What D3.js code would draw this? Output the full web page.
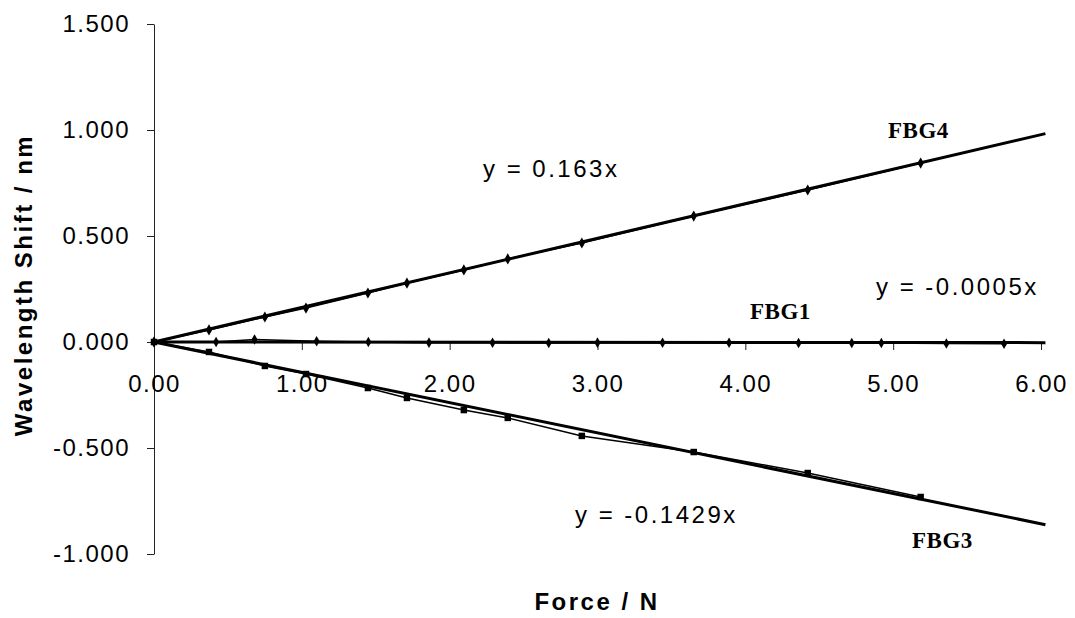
<!DOCTYPE html>
<html>
<head>
<meta charset="utf-8">
<script src="https://cdn.jsdelivr.net/npm/d3@7/dist/d3.min.js"></script>
<style>
  body { margin: 0; background: #fff; }
  svg { display: block; }
  .tick text { font-family: "Liberation Sans", Arial, sans-serif; font-size: 24px; letter-spacing: 1.5px; fill: #000; }
  .eq { font-family: "Liberation Sans", Arial, sans-serif; font-size: 24px; letter-spacing: 2.5px; fill: #000; }
  .tag { font-family: "Liberation Serif", "Times New Roman", serif; font-size: 23px; font-weight: bold; letter-spacing: 0.5px; fill: #000; }
  .title { font-family: "Liberation Sans", Arial, sans-serif; font-size: 24px; font-weight: bold; letter-spacing: 2.5px; fill: #000; }
</style>
</head>
<body>
<div id="chart"></div>
<script>
//data
const loadsA = [0, 0.372, 0.750, 1.028, 1.447, 1.711, 2.096, 2.393, 2.894, 3.651, 4.422, 5.186];
const fbg4 = [0, 0.057, 0.118, 0.160, 0.231, 0.278, 0.340, 0.392, 0.467, 0.594, 0.717, 0.844];
const fbg3 = [0, -0.047, -0.113, -0.151, -0.217, -0.264, -0.321, -0.358, -0.443, -0.519, -0.618, -0.731];
const loadsB = [0, 0.42, 0.68, 1.10, 1.45, 1.86, 2.29, 2.67, 3.00, 3.44, 3.89, 4.36, 4.72, 4.92, 5.36, 5.75];
const fbg1 = [0, 0.000, 0.012, 0.004, 0.000, -0.003, -0.004, -0.005, -0.003, -0.004, -0.004, -0.005, -0.005, -0.005, -0.007, -0.008];

//trendline slopes and their x range
const slopes = { fbg4: 0.163, fbg1: -0.0005, fbg3: -0.1429 };
const trendRange = [0, 6.03];

const xTicks = [0, 1, 2, 3, 4, 5, 6];
const yTicks = [-1, -0.5, 0, 0.5, 1, 1.5];

const width = 1075, height = 618;

const svg = d3.select("#chart")
  .append("svg")
  .attr("width", width)
  .attr("height", height);

const x = d3.scaleLinear().domain([0, 6]).range([154, 1041]);
const y = d3.scaleLinear().domain([-1, 1.5]).range([554, 24]);

//plain hyphen for negatives, like the original
const fmt3 = d => d3.format(".3f")(d).replace("\u2212", "-");
const fmt2 = d => d3.format(".2f")(d).replace("\u2212", "-");

//y axis
svg.append("g")
  .attr("transform", "translate(" + x(0) + ",0)")
  .call(d3.axisLeft(y).tickValues(yTicks).tickFormat(fmt3).tickSize(7).tickSizeOuter(0).tickPadding(17))
  .call(g => g.selectAll("line, path").attr("stroke", "#222"));

//x axis sits on y = 0
svg.append("g")
  .attr("transform", "translate(0," + y(0) + ")")
  .call(d3.axisBottom(x).tickValues(xTicks).tickFormat(fmt2).tickSize(8).tickSizeOuter(0).tickPadding(25))
  .call(g => g.selectAll("line, path").attr("stroke", "#222"));

const line = d3.line().x(d => x(d[0])).y(d => y(d[1]));

//trendlines (thick)
Object.keys(slopes).forEach(k => {
  svg.append("path")
    .datum(trendRange.map(v => [v, slopes[k] * v]))
    .attr("d", line)
    .attr("fill", "none")
    .attr("stroke", "#000")
    .attr("stroke-width", 3);
});

//data lines (thin) + markers
const series = [
  { xs: loadsA, ys: fbg4, sym: d3.symbolDiamond, size: 36 },
  { xs: loadsB, ys: fbg1, sym: d3.symbolDiamond, size: 32 },
  { xs: loadsA, ys: fbg3, sym: d3.symbolSquare, size: 42 }
];

series.forEach(s => {
  const pts = s.xs.map((v, i) => [v, s.ys[i]]);
  svg.append("path")
    .datum(pts)
    .attr("d", line)
    .attr("fill", "none")
    .attr("stroke", "#000")
    .attr("stroke-width", 1.5);
  svg.append("g")
    .selectAll("path")
    .data(pts)
    .enter()
    .append("path")
    .attr("transform", d => "translate(" + x(d[0]) + "," + y(d[1]) + ")")
    .attr("d", d3.symbol().type(s.sym).size(s.size))
    .attr("fill", "#000");
});

//equation labels
const eqs = [
  { t: "y = 0.163x", px: 483, py: 177 },
  { t: "y = -0.0005x", px: 876, py: 295 },
  { t: "y = -0.1429x", px: 575, py: 523 }
];
svg.selectAll(".eq").data(eqs).enter().append("text")
  .attr("class", "eq")
  .attr("x", d => d.px).attr("y", d => d.py)
  .text(d => d.t);

//sensor tags
const tags = [
  { t: "FBG4", px: 888, py: 138 },
  { t: "FBG1", px: 750, py: 319 },
  { t: "FBG3", px: 912, py: 548 }
];
svg.selectAll(".tag").data(tags).enter().append("text")
  .attr("class", "tag")
  .attr("x", d => d.px).attr("y", d => d.py)
  .text(d => d.t);

//axis titles
svg.append("text")
  .attr("class", "title")
  .attr("x", 597).attr("y", 610)
  .attr("text-anchor", "middle")
  .text("Force / N");

svg.append("text")
  .attr("class", "title")
  .attr("transform", "translate(32,285) rotate(-90)")
  .attr("text-anchor", "middle")
  .text("Wavelength Shift / nm");
</script>
</body>
</html>
